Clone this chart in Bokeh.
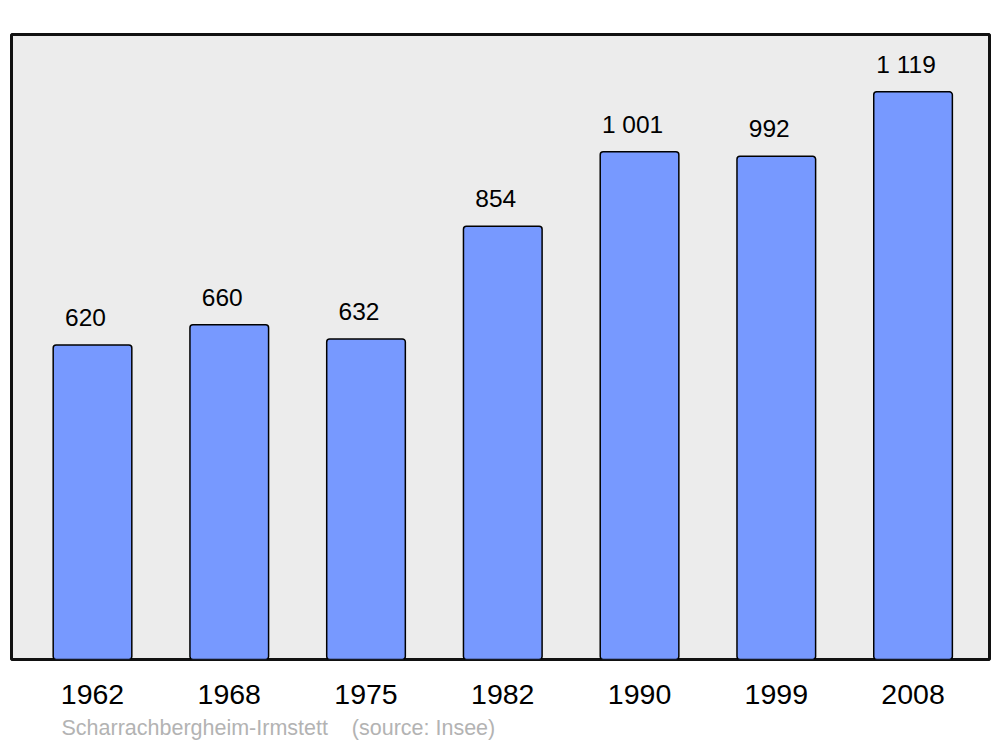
from bokeh.plotting import figure
from bokeh.models import Range1d, FixedTicker, Title, ColumnDataSource
from bokeh.core.properties import value
from bokeh.embed import file_html
from bokeh.resources import INLINE

years = ["1962", "1968", "1975", "1982", "1990", "1999", "2008"]
population = [620, 660, 632, 854, 1001, 992, 1119]
value_labels = ["620", "660", "632", "854", "1 001", "992", "1 119"]
place = "Scharrachbergheim-Irmstett"
source_note = "(source: Insee)"

FONT = "Liberation Sans"
idx = list(range(len(years)))

src = ColumnDataSource(dict(x=idx, top=population, lab=value_labels))

p = figure(width=1000, height=747, output_backend="svg", toolbar_location=None,
           x_range=Range1d(-0.5923, 6.559), y_range=Range1d(0, 1232),
           min_border_left=11, min_border_right=11, min_border_top=34, min_border_bottom=87)

p.background_fill_color = "#ececec"
p.border_fill_color = "white"
p.outline_line_color = "#111111"
p.outline_line_width = 3
p.xgrid.visible = False
p.ygrid.visible = False
p.yaxis.visible = False

p.vbar(x="x", top="top", bottom=0, width=0.575, source=src,
       fill_color="#7799ff", line_color="black", line_width=1.5, border_radius=3)

p.text(x="x", y="top", text="lab", source=src, x_offset=-7, y_offset=-27.5,
       text_align="center", text_baseline="alphabetic",
       text_font=value(FONT), text_font_size="24.5px", text_color="black")

ax = p.xaxis[0]
ax.ticker = FixedTicker(ticks=idx)
ax.major_label_overrides = {i: y for i, y in zip(idx, years)}
ax.axis_line_color = None
ax.major_tick_line_color = None
ax.minor_tick_line_color = None
ax.major_label_text_font = FONT
ax.major_label_text_font_size = "28.5px"
ax.major_label_text_color = "black"
ax.major_label_standoff = 19

footer = Title(text=place + "\u00a0" * 4 + source_note, align="left", offset=50,
               text_font=FONT, text_font_size="21.5px", text_font_style="normal",
               text_color="#b3b3b3", standoff=15)
p.add_layout(footer, "below")

open("out.html", "w").write(file_html(p, INLINE))
